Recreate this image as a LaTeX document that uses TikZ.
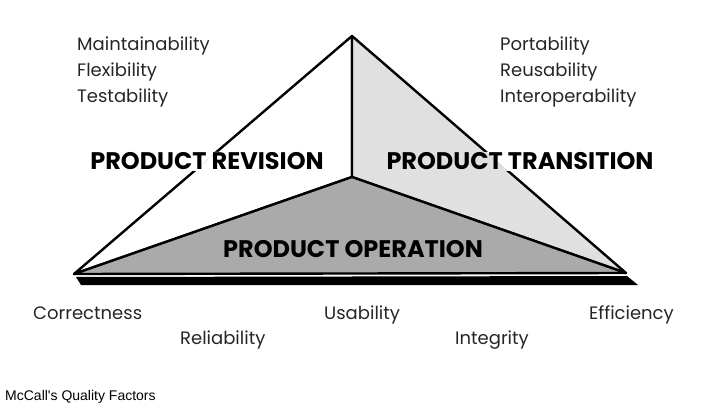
\documentclass[tikz,border=0pt]{standalone}
\usepackage{fontspec}
\setmainfont{Poppins}
\newfontfamily\captionfont{Liberation Sans}
\usetikzlibrary{positioning}

\definecolor{lightface}{RGB}{224,224,224}
\definecolor{darkface}{RGB}{170,170,170}

\begin{document}
\begin{tikzpicture}[x=1pt,y=1pt,yscale=-1,xscale=1]
 \tikzstyle{face} = [draw=black,line width=2.4pt,line join=round]
 \tikzstyle{factor} = [anchor=base west,inner sep=0pt,font=\fontsize{18}{20}\selectfont\mdseries,text=black!85]
 \tikzstyle{group} = [inner sep=0pt,font=\fontsize{24}{26}\selectfont\bfseries]
 %set diagram size
 \useasboundingbox (0,0) rectangle (707,417);
 % corners of the pyramid
 \coordinate (apex) at (352,36);
 \coordinate (left) at (74,274);
 \coordinate (right) at (626,273);
 \coordinate (mid) at (352,177);
 % shadow under the base
 \fill [black] (76,277) -- (627,276) -- (638,285) -- (81,285) -- cycle;
 % the three faces
 \filldraw [face,fill=white] (left) -- (apex) -- (mid) -- cycle;
 \filldraw [face,fill=lightface] (apex) -- (right) -- (mid) -- cycle;
 \filldraw [face,fill=darkface] (left) -- (mid) -- (right) -- cycle;
 % the edges stop behind the two upper titles
 \begin{scope}
  \clip (89,152) rectangle (325,171) (387,152) rectangle (654,171);
  \fill [white] (left) -- (apex) -- (mid) -- cycle;
  \fill [lightface] (apex) -- (right) -- (mid) -- cycle;
  \fill [white] (apex) -- (right) -- (700,0) -- cycle;
  \fill [white] (apex) -- (left) -- (0,0) -- cycle;
 \end{scope}
 %Labelling
 \node [group] (revision) at (207,161) {PRODUCT REVISION};
 \node [group] (transition) at (520,161) {PRODUCT TRANSITION};
 \node [group] (operation) at (353,249) {PRODUCT OPERATION};
 \node [factor] (maint) at (77,51) {Maintainability};
 \node [factor] (flex) at (77,77) {Flexibility};
 \node [factor] (test) at (77,103) {Testability};
 \node [factor] (port) at (500,51) {Portability};
 \node [factor] (reus) at (500,77) {Reusability};
 \node [factor] (interop) at (500,103) {Interoperability};
 \node [factor] (correct) at (33,319) {Correctness};
 \node [factor] (reliab) at (180,344) {Reliability};
 \node [factor] (usab) at (324,319) {Usability};
 \node [factor] (integ) at (455,344) {Integrity};
 \node [factor] (effic) at (589,319) {Efficiency};
 \node [anchor=west,inner sep=0pt,font=\captionfont\fontsize{14}{16}\selectfont] (caption) at (5,397) {McCall's Quality Factors};
\end{tikzpicture}
\end{document}
